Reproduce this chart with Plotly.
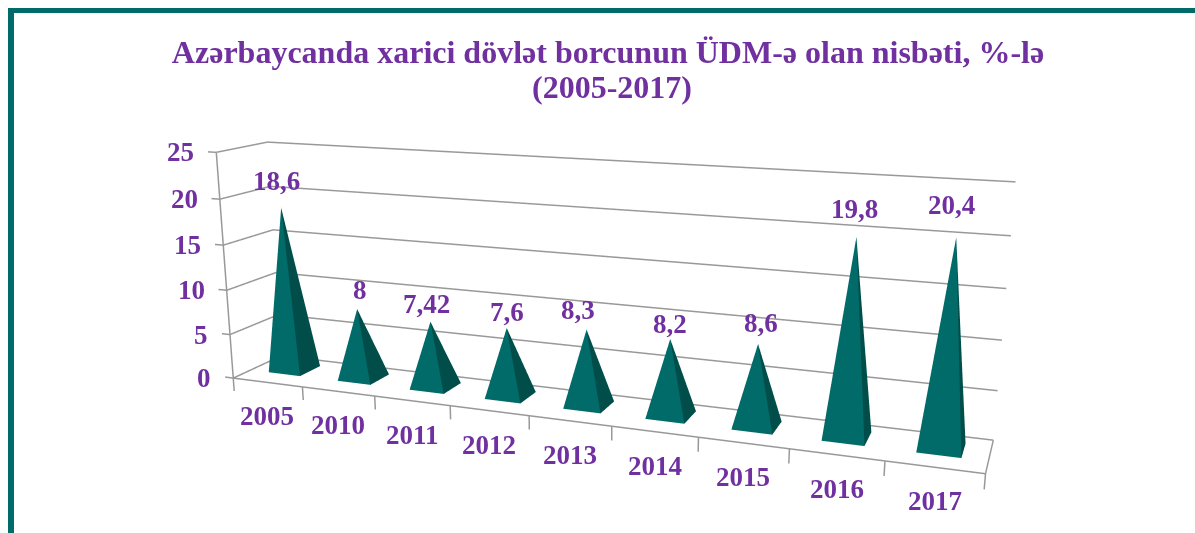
import plotly.graph_objects as go

title_line = "Azərbaycanda xarici dövlət borcunun ÜDM-ə olan nisbəti, %-lə"
title_years = "(2005-2017)"
categories = ["2005", "2010", "2011", "2012", "2013", "2014", "2015", "2016", "2017"]
values = [18.6, 8, 7.42, 7.6, 8.3, 8.2, 8.6, 19.8, 20.4]
value_labels = ["18,6", "8", "7,42", "7,6", "8,3", "8,2", "8,6", "19,8", "20,4"]
z_ticks = [0, 5, 10, 15, 20, 25]

# styling / view
PURPLE = "#7030A0"
TEAL = "#006B68"
TEAL_DARK = "#004D4A"
GRID = "#999999"
FONT = "Liberation Serif"
W, H, CROP_TOP = 1195, 1074, 213   # the scene is tall so the 45-degree lens reads as a long focal length
BASE_X, BASE_Y, BASE_BACK = 0.23, 0.22, 0.07   # pyramid half widths and backward offset of the base
label_dx = [-5, 3, -4, 0, -9, 0, 3, -2, -5]
label_dy = [27, 19, 18, 16, 20, 15, 21, 28, 32]

XR = [-0.62, 8.6]
YR = [-0.5, 0.5]
ZR = [-1.5, 25.5]
n = len(categories)
x_lo, x_hi = -0.5, n - 0.5


def py(px):
    return 1 - (px + CROP_TOP) / H


fig = go.Figure()

# walls: gridlines along the left wall and the back wall
gx, gy, gz = [], [], []
for t in z_ticks:
    gx += [x_lo, x_lo, x_hi, None]
    gy += [YR[0], YR[1], YR[1], None]
    gz += [t, t, t, None]
# vertical axis + its ticks
gx += [x_lo, x_lo, None]; gy += [YR[0], YR[0], None]; gz += [0, z_ticks[-1], None]
for t in z_ticks:
    gx += [x_lo, XR[0], None]; gy += [YR[0], YR[0], None]; gz += [t, t, None]
# floor front and right edge + category ticks
gx += [x_lo, x_hi, x_hi, None]; gy += [YR[0], YR[0], YR[1], None]; gz += [0, 0, 0, None]
for k in range(n + 1):
    gx += [x_lo + k, x_lo + k, None]; gy += [YR[0], YR[0], None]; gz += [0, ZR[0], None]
fig.add_trace(go.Scatter3d(x=gx, y=gy, z=gz, mode="lines",
                           line=dict(color=GRID, width=3), hoverinfo="skip"))

# pyramids
vx, vy, vz, fi, fj, fk, fc = [], [], [], [], [], [], []
for idx, v in enumerate(values):
    b = len(vx)
    vx += [idx - BASE_X, idx + BASE_X, idx + BASE_X, idx - BASE_X, idx]
    vy += [BASE_BACK - BASE_Y, BASE_BACK - BASE_Y, BASE_BACK + BASE_Y, BASE_BACK + BASE_Y, 0]
    vz += [0, 0, 0, 0, v]
    for (p, q, col) in [(0, 1, TEAL), (1, 2, TEAL_DARK), (2, 3, TEAL), (3, 0, TEAL)]:
        fi.append(b + p); fj.append(b + q); fk.append(b + 4); fc.append(col)
fig.add_trace(go.Mesh3d(x=vx, y=vy, z=vz, i=fi, j=fj, k=fk, facecolor=fc, flatshading=True,
                        lighting=dict(ambient=1, diffuse=0, specular=0, fresnel=0, roughness=1),
                        hoverinfo="skip", showscale=False))

txt = dict(family=FONT, size=27, color=PURPLE, weight="bold")
head = dict(family=FONT, size=32, color=PURPLE, weight="bold")
ann = []
for t in z_ticks:
    ann.append(dict(x=x_lo, y=YR[0], z=t, text=str(t), showarrow=False, xanchor="right",
                    xshift=-20, font=txt))
for idx, c in enumerate(categories):
    ann.append(dict(x=idx, y=YR[0], z=0, text=c, showarrow=False, yshift=-34, font=txt))
for idx, (v, s) in enumerate(zip(values, value_labels)):
    ann.append(dict(x=idx, y=0, z=v, text=s, showarrow=False,
                    xshift=label_dx[idx], yshift=label_dy[idx], font=txt))

none_axis = dict(visible=False)
frame = [
    dict(type="rect", xref="paper", yref="paper", x0=8 / W, x1=1, y0=py(13), y1=py(8),
         fillcolor=TEAL, line=dict(width=0)),
    dict(type="rect", xref="paper", yref="paper", x0=8 / W, x1=14 / W, y0=py(533), y1=py(8),
         fillcolor=TEAL, line=dict(width=0)),
]

fig.update_layout(
    width=W, height=H, margin=dict(l=0, r=0, t=0, b=0), showlegend=False,
    paper_bgcolor="white", shapes=frame,
    title=dict(text=title_line, x=608 / W, xanchor="center", xref="paper", yref="paper",
               y=py(52), yanchor="middle", font=head),
    annotations=[dict(text=title_years, x=612 / W, y=py(87), xref="paper", yref="paper",
                      showarrow=False, xanchor="center", yanchor="middle", font=head)],
    scene=dict(
        domain=dict(x=[0, 1], y=[0, 1]), aspectmode="manual",
        aspectratio=dict(x=2.9990, y=0.33867, z=0.98462),
        camera=dict(eye=dict(x=1.6710, y=-4.3320, z=1.1385), center=dict(x=0.0481, y=-0.004, z=-0.1081),
                    up=dict(x=-0.503, y=1.336, z=1), projection=dict(type="perspective")),
        xaxis=dict(none_axis, range=XR), yaxis=dict(none_axis, range=YR), zaxis=dict(none_axis, range=ZR),
        annotations=ann, dragmode=False),
)
clip = ("document.documentElement.style.overflow='hidden';document.body.style.overflow='hidden';"
        "document.body.style.margin='0';document.body.style.height='533px';"
        "document.querySelector('.plotly-graph-div').style.marginTop='-%dpx';" % CROP_TOP)
fig.write_html("out.html", config=dict(displayModeBar=False), post_script=clip)
